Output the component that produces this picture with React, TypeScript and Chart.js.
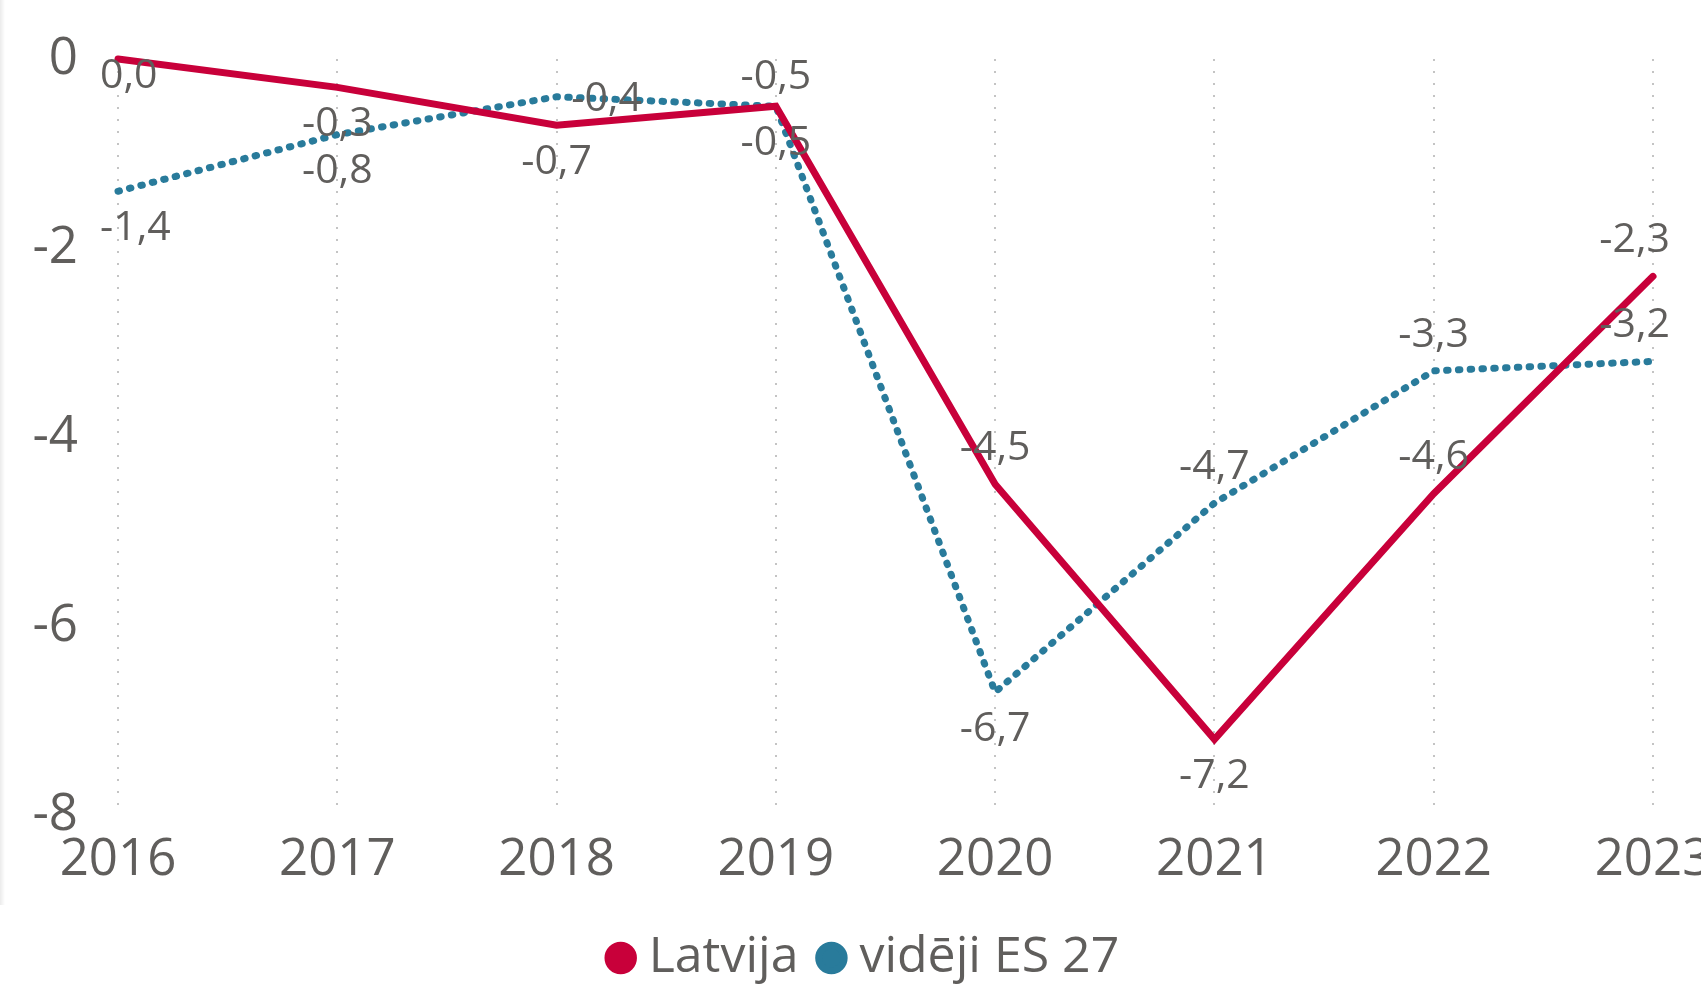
import React, { useEffect, useRef } from "react";
import { Chart, registerables } from "chart.js";

Chart.register(...registerables);

const years = ["2016", "2017", "2018", "2019", "2020", "2021", "2022", "2023"];
const latvija = [0.0, -0.3, -0.7, -0.5, -4.5, -7.2, -4.6, -2.3];
const euAverage = [-1.4, -0.8, -0.4, -0.5, -6.7, -4.7, -3.3, -3.2];
const yTicks = [0, -2, -4, -6, -8];
const seriesNames = ["Latvija", "vidēji ES 27"];
const seriesColors = ["#C8003A", "#297B9B"];

// where each data label sits relative to its point
const labelPlacement = [
  ["belowNear", "below", "below", "aboveNear", "above", "below", "above", "above"],
  ["below", "below", "right", "below", "below", "above", "above", "above"],
];

const TEXT = "#605E5C";
const FONT = "'Open Sans', 'Noto Sans', sans-serif";

const dataLabelPlugin = {
  id: "dataLabels",
  afterDatasetsDraw(chart: any) {
    const ctx = chart.ctx;
    const area = chart.chartArea;
    ctx.save();
    ctx.font = `41px ${FONT}`;
    ctx.fillStyle = TEXT;
    ctx.textAlign = "center";
    ctx.textBaseline = "middle";
    chart.data.datasets.forEach((ds: any, di: number) => {
      const meta = chart.getDatasetMeta(di);
      meta.data.forEach((pt: any, i: number) => {
        const v = ds.data[i] as number;
        const text = v.toFixed(1).replace(".", ",");
        const w = ctx.measureText(text).width;
        let x = pt.x;
        let y = pt.y;
        const p = labelPlacement[di][i];
        if (p === "above") y -= 36;
        else if (p === "aboveNear") y -= 29;
        else if (p === "below") y += 37;
        else if (p === "belowNear") y += 17;
        else if (p === "right") {
          x += 50;
          y += 3;
        }
        x = Math.max(x, area.left - 18 + w / 2);
        x = Math.min(x, area.right + 17 - w / 2);
        ctx.fillText(text, x, y);
      });
    });
    ctx.restore();
  },
};

const legendShiftPlugin = {
  id: "legendShift",
  afterLayout(chart: any) {
    const lg = chart.legend;
    if (lg) {
      lg.left += 66;
      lg.width = lg.right - lg.left;
    }
  },
};

export default function App() {
  const ref = useRef<HTMLCanvasElement | null>(null);

  useEffect(() => {
    if (!ref.current) return;
    const chart = new Chart(ref.current, {
      type: "line",
      data: {
        labels: years,
        datasets: [
          {
            label: seriesNames[0],
            data: latvija,
            borderColor: seriesColors[0],
            backgroundColor: seriesColors[0],
            borderWidth: 7,
            borderJoinStyle: "miter",
            borderCapStyle: "round",
            pointRadius: 0,
            tension: 0,
            clip: false,
          },
          {
            label: seriesNames[1],
            data: euAverage,
            borderColor: seriesColors[1],
            backgroundColor: seriesColors[1],
            borderWidth: 7,
            borderDash: [1.5, 10.3],
            borderCapStyle: "round",
            borderJoinStyle: "round",
            pointRadius: 0,
            tension: 0,
            clip: false,
          },
        ],
      },
      options: {
        responsive: false,
        animation: false,
        devicePixelRatio: 1,
        layout: {
          autoPadding: false,
          padding: { left: 18, right: 107, top: 59, bottom: 0 },
        },
        font: { family: FONT },
        scales: {
          x: {
            offset: false,
            grid: {
              display: true,
              drawTicks: false,
              color: "#C4C4C4",
              lineWidth: 2,
            },
            border: { display: false, dash: [2, 10] },
            ticks: {
              color: TEXT,
              font: { family: FONT, size: 51 },
              padding: 15,
              maxRotation: 0,
              autoSkip: false,
            },
            afterFit: (s: any) => {
              s.height = 88;
            },
          },
          y: {
            min: -8,
            max: 0,
            grid: { display: false, drawTicks: false },
            border: { display: false },
            ticks: {
              color: TEXT,
              font: { family: FONT, size: 51, lineHeight: 0.5 },
              padding: 40,
            },
            afterBuildTicks: (s: any) => {
              s.ticks = yTicks.map((v) => ({ value: v }));
            },
            afterFit: (s: any) => {
              s.width = 100;
            },
          },
        },
        plugins: {
          legend: {
            position: "bottom",
            labels: {
              usePointStyle: true,
              pointStyle: "circle",
              boxWidth: 6,
              boxHeight: 18,
              padding: 30,
              color: TEXT,
              font: { family: FONT, size: 50 },
            },
          },
          title: { display: false },
          tooltip: { enabled: false },
        },
      },
      plugins: [dataLabelPlugin, legendShiftPlugin],
    } as any);
    return () => chart.destroy();
  }, []);

  return (
    <div
      style={{
        position: "fixed",
        left: 0,
        top: 0,
        width: 1701,
        height: 984,
        overflow: "hidden",
        background: "#ffffff",
      }}
    >
      <div
        style={{
          position: "absolute",
          left: 0,
          top: 0,
          width: 5,
          height: 905,
          background: "linear-gradient(to right, #ebebeb, #ffffff)",
        }}
      />
      <canvas
        ref={ref}
        width={1760}
        height={993}
        style={{ display: "block", width: 1760, height: 993 }}
      />
    </div>
  );
}
